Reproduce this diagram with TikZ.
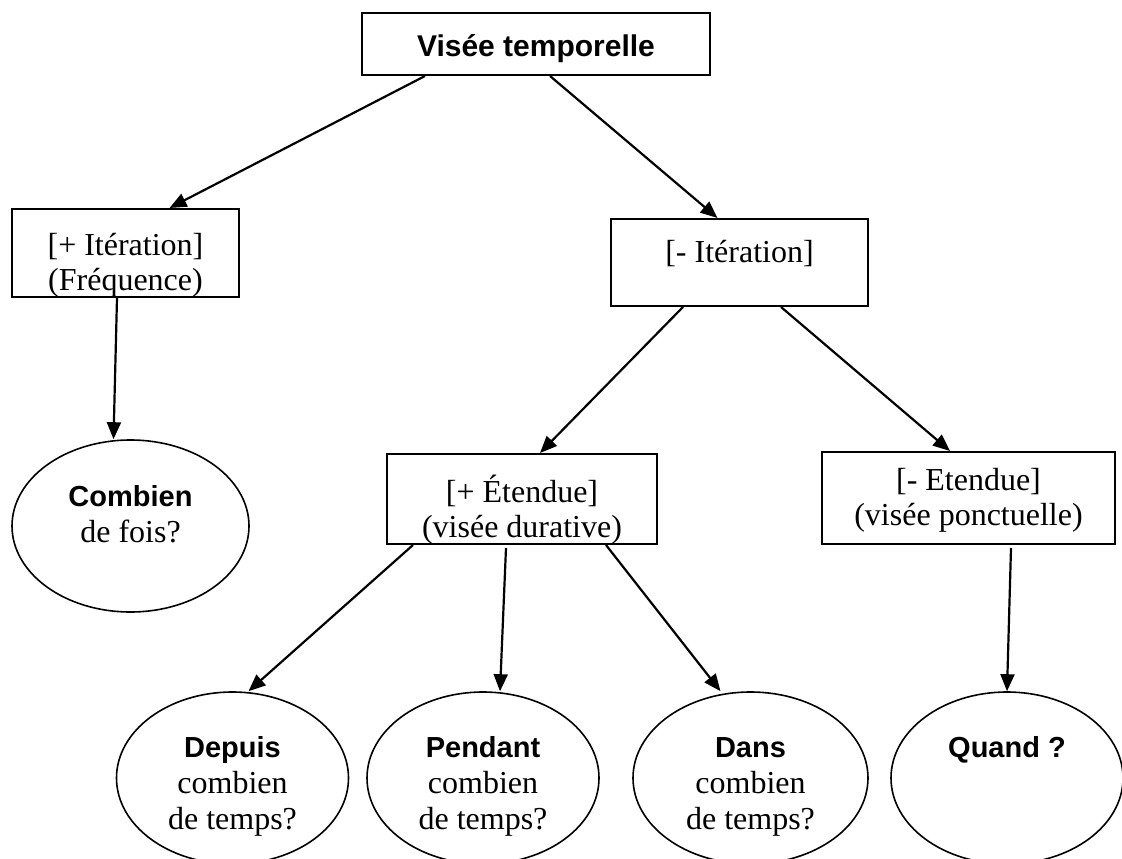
\documentclass[tikz,border=0pt]{standalone}
\usepackage{fontspec}
\setmainfont{Liberation Serif}
\setsansfont{Liberation Sans}
\usetikzlibrary{arrows.meta, shapes.geometric}
\newcommand{\keyw}[1]{{\sffamily\bfseries\fontsize{29}{36}\selectfont #1}}

\begin{document}
\begin{tikzpicture}[
      x=1pt, y=-1pt, >={Triangle[length=17pt, width=14pt]},
      box/.style={rectangle, draw=black, line width=2pt, inner sep=0pt, align=center, font=\fontsize{32}{35}\selectfont},
      bubble/.style={ellipse, draw=black, line width=1.6pt, inner sep=0pt, align=center, minimum width=232pt, minimum height=172pt, font=\fontsize{32}{36}\selectfont},
      line/.style={draw, line width=2.2pt, ->}
    ]
    \useasboundingbox (0,0) rectangle (1122,859);
    % Nodes
    \node[box, font=\sffamily\bfseries\fontsize{30}{36}\selectfont, minimum width=348pt, minimum height=62pt, text height=30pt, text depth=4pt] (vise) at (536,44) {Visée temporelle};
    \node[box, minimum width=227pt, minimum height=88pt, text height=81pt, text depth=7pt] (iterP) at (125.5,253) {[+ Itération]\\(Fréquence)};
    \node[box, minimum width=257pt, minimum height=87pt, text height=22pt, text depth=23pt] (iterM) at (739.5,262.5) {[- Itération]};
    \node[box, minimum width=270pt, minimum height=88pt, text height=83pt, text depth=7pt] (etenP) at (522,499) {[+ Étendue]\\(visée durative)};
    \node[box, minimum width=293pt, minimum height=92pt, text height=61pt, text depth=7pt] (etenM) at (968.5,498) {[- Etendue]\\(visée ponctuelle)};

    \node[bubble, minimum width=237pt, text height=39pt, text depth=7pt] (combien) at (130.5,526) {\keyw{Combien}\\de fois?};
    \node[bubble, text height=109pt, text depth=7pt] (depuis) at (232.5,778) {\keyw{Depuis}\\combien\\de temps?};
    \node[bubble, text height=109pt, text depth=7pt] (pendant) at (483,778) {\keyw{Pendant}\\combien\\de temps?};
    \node[bubble, minimum width=235pt, text height=109pt, text depth=7pt] (dans) at (750.5,778) {\keyw{Dans}\\combien\\de temps?};
    \node[bubble, text height=21pt, text depth=63pt] (quand) at (1007,778) {\keyw{Quand ?}};

    % Arrows
    \draw[line] ([xshift=-111pt]vise.south) -- ([xshift=44pt]iterP.north);
    \draw[line] ([xshift=14pt]vise.south) -- ([xshift=-22pt]iterM.north);
    \draw[line] ([xshift=-8.5pt]iterP.south) -- ([xshift=-17pt]combien.north);
    \draw[line] ([xshift=-56.5pt]iterM.south) -- ([xshift=18pt]etenP.north);
    \draw[line] ([xshift=41.5pt]iterM.south) -- ([xshift=-18.5pt]etenM.north);
    \draw[line] ([xshift=-109pt]etenP.south) -- ([xshift=16pt]depuis.north);
    \draw[line] ([xshift=-16pt, yshift=-3pt]etenP.south) -- ([xshift=17pt]pendant.north);
    \draw[line] ([xshift=84pt]etenP.south) -- ([xshift=-30pt]dans.north);
    \draw[line] ([xshift=42.5pt, yshift=-3pt]etenM.south) -- (quand.north);
  \end{tikzpicture}
\end{document}
